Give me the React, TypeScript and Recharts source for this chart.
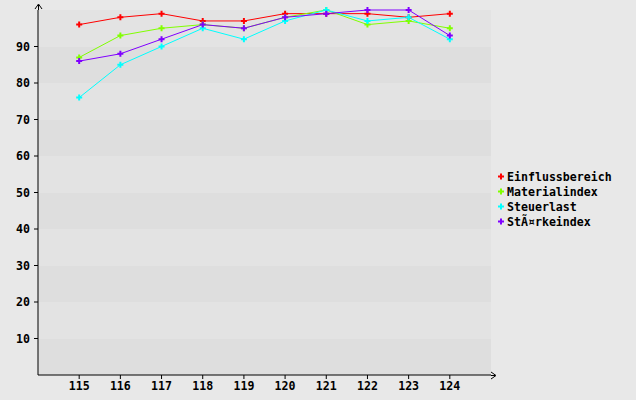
import { LineChart, Line, XAxis, YAxis, ReferenceArea } from 'recharts';

const categories = [115, 116, 117, 118, 119, 120, 121, 122, 123, 124];
const einfluss = [96, 98, 99, 97, 97, 99, 99, 99, 98, 99];
const material = [87, 93, 95, 96, 95, 98, 100, 96, 97, 95];
const steuer = [76, 85, 90, 95, 92, 97, 100, 97, 98, 92];
const staerke = [86, 88, 92, 96, 95, 98, 99, 100, 100, 93];
const yTicks = [10, 20, 30, 40, 50, 60, 70, 80, 90];
const bands = [0, 10, 20, 30, 40, 50, 60, 70, 80, 90];

const series = [
  { key: 'einfluss', name: 'Einflussbereich', color: '#ff0000', values: einfluss },
  { key: 'material', name: 'Materialindex', color: '#80ff00', values: material },
  { key: 'steuer', name: 'Steuerlast', color: '#00ffff', values: steuer },
  { key: 'staerke', name: 'StÃ¤rkeindex', color: '#8000ff', values: staerke },
];

const data = categories.map((x, i) => {
  const row: any = { x };
  series.forEach(s => { row[s.key] = s.values[i]; });
  return row;
});

const FONT = '"DejaVu Sans Mono", monospace';

const plus = (cx: number, cy: number, color: string) => (
  <path
    d={`M${cx - 1},${cy - 3}h2v2h2v2h-2v2h-2v-2h-2v-2h2z`}
    fill={color}
    stroke="none"
  />
);

function Marker(props: any) {
  const { cx, cy, stroke, index } = props;
  if (cx == null || cy == null) return null;
  return <g key={`m-${index}`}>{plus(cx, cy, stroke)}</g>;
}

export default function App() {
  return (
    <div style={{ position: 'absolute', left: 0, top: 0, width: 636, height: 400, background: '#e8e8e8' }}>
      <LineChart width={636} height={400} data={data} margin={{ top: 10, right: 145, left: 0, bottom: 0 }}>
        {bands.map((b, i) => (
          <ReferenceArea
            key={b}
            x1={114}
            x2={125}
            y1={b}
            y2={b + 10}
            fill={i % 2 === 0 ? '#dedede' : '#e3e3e3'}
            fillOpacity={1}
            stroke="none"
          />
        ))}
        <XAxis
          dataKey="x"
          type="number"
          domain={[114, 125]}
          ticks={categories}
          interval={0}
          height={25}
          tickSize={4}
          tickMargin={3}
          axisLine={{ stroke: '#000' }}
          tickLine={{ stroke: '#000' }}
          tick={{ fill: '#000', fontFamily: FONT, fontWeight: 'bold', fontSize: 11.6 }}
        />
        <YAxis
          type="number"
          domain={[0, 100]}
          ticks={yTicks}
          interval={0}
          width={38}
          tickSize={4}
          tickMargin={4}
          axisLine={{ stroke: '#000' }}
          tickLine={{ stroke: '#000' }}
          tick={{ fill: '#000', fontFamily: FONT, fontWeight: 'bold', fontSize: 11.6 }}
        />
        {series.map(s => (
          <Line
            key={s.key}
            dataKey={s.key}
            name={s.name}
            stroke={s.color}
            strokeWidth={1}
            dot={<Marker />}
            activeDot={false}
            isAnimationActive={false}
          />
        ))}
      </LineChart>
      <svg width={636} height={400} style={{ position: 'absolute', left: 0, top: 0, pointerEvents: 'none' }}>
        <line x1={38.5} y1={10} x2={38.5} y2={5} stroke="#000" />
        <path d="M35,9 L38.5,4 L42,9" fill="none" stroke="#000" />
        <line x1={491} y1={375.5} x2={495} y2={375.5} stroke="#000" />
        <path d="M491,372 L496,375.5 L491,379" fill="none" stroke="#000" />
      </svg>
      <div
        style={{
          position: 'absolute', left: 497, top: 169,
          fontFamily: FONT, fontWeight: 'bold', fontSize: 11.6, color: '#000',
        }}
      >
        {series.map(s => (
          <div key={s.key} style={{ display: 'flex', alignItems: 'center', height: 15 }}>
            <svg width={10} height={15}>{plus(4, 7.5, s.color)}</svg>
            <span>{s.name}</span>
          </div>
        ))}
      </div>
    </div>
  );
}
